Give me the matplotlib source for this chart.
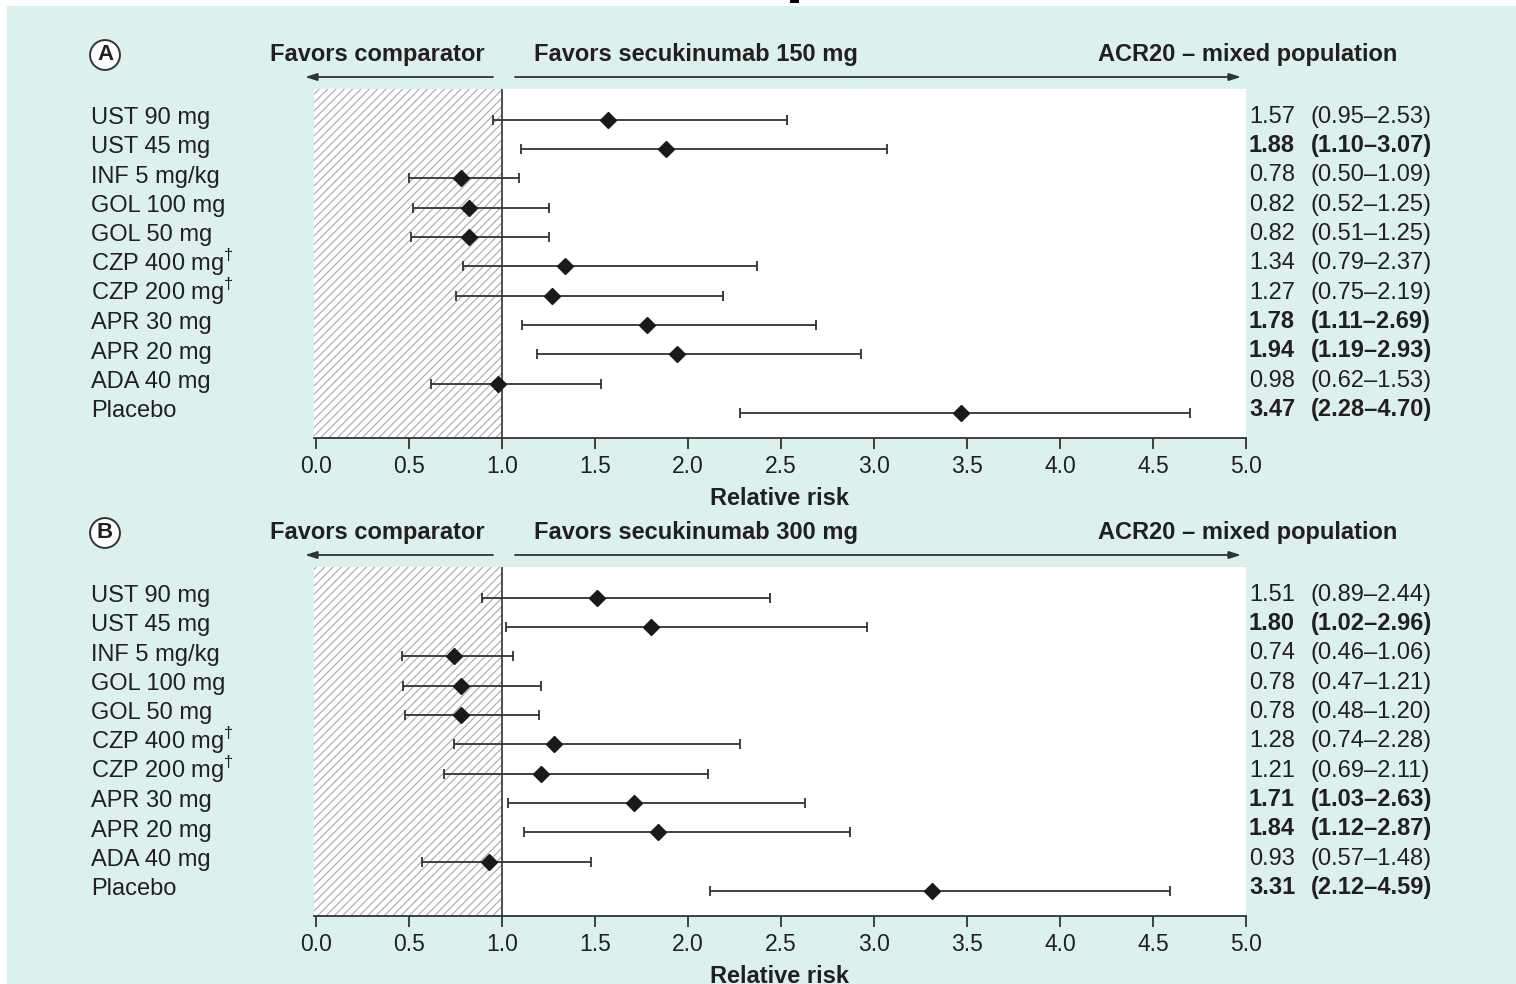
import numpy as np
import matplotlib.pyplot as plt
from matplotlib.patches import Rectangle
from matplotlib.transforms import blended_transform_factory

plt.rcParams['font.family'] = ['Liberation Sans', 'DejaVu Sans']
plt.rcParams['mathtext.fontset'] = 'custom'
plt.rcParams['mathtext.rm'] = 'Liberation Sans'
plt.rcParams['hatch.linewidth'] = 0.8

W, H = 1516, 984
BG = '#dcf0ee'
INK = '#231f20'
FS = 17

labels = ['UST 90 mg', 'UST 45 mg', 'INF 5 mg/kg', 'GOL 100 mg', 'GOL 50 mg',
          'CZP 400 mg$^{\\dagger}$', 'CZP 200 mg$^{\\dagger}$', 'APR 30 mg',
          'APR 20 mg', 'ADA 40 mg', 'Placebo']

# secukinumab 150 mg vs comparators
rr_150 = [1.57, 1.88, 0.78, 0.82, 0.82, 1.34, 1.27, 1.78, 1.94, 0.98, 3.47]
lo_150 = [0.95, 1.10, 0.50, 0.52, 0.51, 0.79, 0.75, 1.11, 1.19, 0.62, 2.28]
hi_150 = [2.53, 3.07, 1.09, 1.25, 1.25, 2.37, 2.19, 2.69, 2.93, 1.53, 4.70]

# secukinumab 300 mg vs comparators
rr_300 = [1.51, 1.80, 0.74, 0.78, 0.78, 1.28, 1.21, 1.71, 1.84, 0.93, 3.31]
lo_300 = [0.89, 1.02, 0.46, 0.47, 0.48, 0.74, 0.69, 1.03, 1.12, 0.57, 2.12]
hi_300 = [2.44, 2.96, 1.06, 1.21, 1.20, 2.28, 2.11, 2.63, 2.87, 1.48, 4.59]

xticks = [0.0, 0.5, 1.0, 1.5, 2.0, 2.5, 3.0, 3.5, 4.0, 4.5, 5.0]


def fx(px):
    return px / W


def fy(py):
    return 1 - py / H


def draw_panel(fig, top, letter, dose, rr, lo, hi):
    bottom = top + 349
    ax = fig.add_axes([fx(314), fy(bottom), fx(1246) - fx(314), (bottom - top) / H])
    ax.set_facecolor('white')
    ax.set_xlim(-0.011, 5.0)
    ax.set_ylim(10.85, -1.05)

    ax.axvspan(-0.011, 1.0, facecolor='white', edgecolor='#a9a9a9',
               hatch='////', linewidth=0, zorder=0)
    ax.axvline(1.0, color='#333333', lw=1.2, zorder=1)

    rr = np.array(rr)
    lo = np.array(lo)
    hi = np.array(hi)
    y = np.arange(len(rr))
    ax.errorbar(rr, y, xerr=[rr - lo, hi - rr], fmt='D', ms=8.5,
                color='#1a1a1a', ecolor='#333333', elinewidth=1.3,
                capsize=3.6, capthick=1.3, zorder=3)

    for s in ['top', 'left', 'right']:
        ax.spines[s].set_visible(False)
    ax.spines['bottom'].set_color('#333333')
    ax.spines['bottom'].set_linewidth(1.3)
    ax.set_yticks([])
    ax.set_xticks(xticks)
    ax.set_xticklabels([f'{t:.1f}' for t in xticks], fontsize=16.5, color=INK)
    ax.tick_params(axis='x', length=8, width=1.3, color='#333333', pad=4)
    ax.set_xlabel('Relative risk', fontsize=FS, fontweight='bold',
                  color=INK, labelpad=7)

    # row labels on the left, estimates and intervals on the right
    tr = blended_transform_factory(fig.transFigure, ax.transData)
    for i in range(len(rr)):
        weight = 'bold' if lo[i] > 1.0 else 'normal'
        ax.text(fx(91), i + 0.14, labels[i], transform=tr, fontsize=FS,
                color=INK, va='baseline', ha='left')
        ax.text(fx(1249), i + 0.1, f'{rr[i]:.2f}', transform=tr, fontsize=FS,
                color=INK, va='baseline', ha='left', fontweight=weight)
        ax.text(fx(1311), i + 0.1, f'({lo[i]:.2f}\u2013{hi[i]:.2f})', transform=tr,
                fontsize=FS, color=INK, va='baseline', ha='left', fontweight=weight)

    # header row
    hy = top - 34
    fig.text(fx(105), fy(hy), letter, fontsize=16, fontweight='bold', color=INK,
             ha='center', va='center',
             bbox=dict(boxstyle='circle,pad=0.2', fc='white', ec='#333333', lw=1.4))
    fig.text(fx(270), fy(hy), 'Favors comparator', fontsize=FS,
             fontweight='bold', color=INK, ha='left', va='center')
    fig.text(fx(534), fy(hy), f'Favors secukinumab {dose} mg', fontsize=FS,
             fontweight='bold', color=INK, ha='left', va='center')
    fig.text(fx(1098), fy(hy), 'ACR20 \u2013 mixed population', fontsize=FS,
             fontweight='bold', color=INK, ha='left', va='center')

    ay = top - 12
    arrow = dict(arrowstyle='-|>,head_length=0.7,head_width=0.22',
                 color='#333333', lw=1.3, shrinkA=0, shrinkB=0)
    fig.add_artist(plt.Annotation('', xy=(fx(305), fy(ay)), xytext=(fx(493), fy(ay)),
                                  xycoords='figure fraction', arrowprops=arrow))
    fig.add_artist(plt.Annotation('', xy=(fx(1241), fy(ay)), xytext=(fx(515), fy(ay)),
                                  xycoords='figure fraction', arrowprops=arrow))
    return ax


fig = plt.figure(figsize=(W / 100, H / 100), dpi=100, facecolor=BG)

# white page margins
fig.add_artist(Rectangle((0, fy(6)), 1, 6 / H, transform=fig.transFigure,
                         facecolor='white', edgecolor='none', zorder=-1))
fig.add_artist(Rectangle((0, 0), fx(7), 1, transform=fig.transFigure,
                         facecolor='white', edgecolor='none', zorder=-1))
fig.add_artist(Rectangle((fx(790), fy(3)), fx(9), 3 / H, transform=fig.transFigure,
                         facecolor='black', edgecolor='none', zorder=-1))

draw_panel(fig, 89, 'A', 150, rr_150, lo_150, hi_150)
draw_panel(fig, 567, 'B', 300, rr_300, lo_300, hi_300)

plt.savefig('out.png', dpi=100, facecolor=BG)
plt.close()
